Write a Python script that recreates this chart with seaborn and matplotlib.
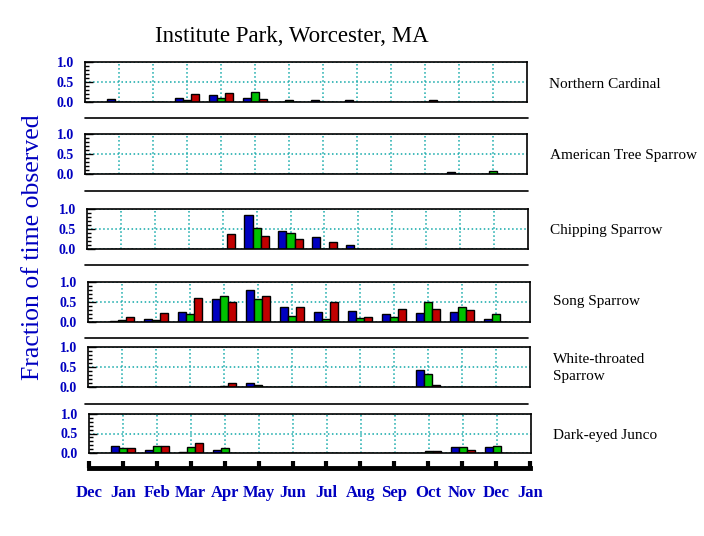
import pandas as pd
import matplotlib
matplotlib.use("Agg")
import matplotlib.pyplot as plt
import seaborn as sns
from matplotlib.lines import Line2D
from matplotlib.ticker import MultipleLocator

# ------------------------------------------
# DATA (fraction of time observed, per month)
# ------------------------------------------
months = ["Jan", "Feb", "Mar", "Apr", "May", "Jun",
          "Jul", "Aug", "Sep", "Oct", "Nov", "Dec"]
month_pos = list(range(1, 13))
axis_labels = ["Dec", "Jan", "Feb", "Mar", "Apr", "May", "Jun",
               "Jul", "Aug", "Sep", "Oct", "Nov", "Dec", "Jan"]
series_names = ["blue", "green", "red"]

species = ["Northern Cardinal", "American Tree Sparrow", "Chipping Sparrow",
           "Song Sparrow", "White-throated\nSparrow", "Dark-eyed Junco"]

cardinal_blue = [0.08, 0, 0.11, 0.18, 0.11, 0, 0.05, 0.05, 0, 0, 0, 0]
cardinal_green = [0, 0, 0.04, 0.11, 0.25, 0.05, 0, 0, 0, 0, 0, 0]
cardinal_red = [0, 0.01, 0.20, 0.23, 0.08, 0, 0, 0, 0, 0.05, 0, 0]

tree_blue = [0, 0, 0, 0.01, 0, 0, 0, 0, 0, 0, 0.05, 0]
tree_green = [0, 0, 0, 0, 0, 0, 0, 0, 0, 0, 0, 0.075]
tree_red = [0, 0, 0, 0, 0, 0, 0, 0, 0, 0, 0, 0]

chipping_blue = [0, 0, 0, 0, 0.84, 0.46, 0.31, 0.10, 0, 0, 0, 0]
chipping_green = [0, 0, 0, 0.01, 0.53, 0.40, 0, 0, 0, 0, 0, 0]
chipping_red = [0, 0, 0, 0.38, 0.33, 0.25, 0.18, 0, 0, 0, 0, 0]

song_blue = [0.02, 0.08, 0.25, 0.57, 0.81, 0.37, 0.25, 0.27, 0.20, 0.22, 0.25, 0.07]
song_green = [0.05, 0.05, 0.20, 0.64, 0.57, 0.15, 0.07, 0.10, 0.12, 0.49, 0.37, 0.20]
song_red = [0.12, 0.22, 0.61, 0.49, 0.66, 0.37, 0.49, 0.12, 0.32, 0.32, 0.30, 0]

white_blue = [0, 0, 0.01, 0, 0.10, 0, 0, 0, 0, 0.42, 0, 0]
white_green = [0, 0, 0, 0.02, 0.05, 0, 0, 0, 0, 0.32, 0, 0]
white_red = [0, 0, 0, 0.10, 0, 0, 0, 0, 0, 0.05, 0, 0]

junco_blue = [0.175, 0.075, 0.02, 0.075, 0, 0, 0, 0, 0, 0, 0.15, 0.15]
junco_green = [0.125, 0.175, 0.15, 0.125, 0, 0, 0, 0, 0, 0.05, 0.15, 0.175]
junco_red = [0.125, 0.175, 0.25, 0, 0, 0, 0, 0, 0, 0.05, 0.075, 0]

panel_data = [
    (cardinal_blue, cardinal_green, cardinal_red),
    (tree_blue, tree_green, tree_red),
    (chipping_blue, chipping_green, chipping_red),
    (song_blue, song_green, song_red),
    (white_blue, white_green, white_red),
    (junco_blue, junco_green, junco_red),
]

# ------------------------------------------
# STYLE
# ------------------------------------------
sns.set_style("white")
plt.rcParams["font.family"] = ["Liberation Serif", "DejaVu Serif"]
plt.rcParams["text.color"] = "black"

W, H = 704, 536
text_blue = "#0000c0"
grid_col = "#10a8a8"
palette = {"blue": "#0000c0", "green": "#00c000", "red": "#c00000"}

# panel boxes in pixels: left, right, top, bottom
boxes = [(85, 527, 62, 102), (85, 527, 134, 174), (87, 528, 209, 249),
         (88, 530, 282, 322), (88, 530, 347, 387), (89, 531, 414, 453)]
label_pos = [(549, 84), (550, 155), (550, 230), (553, 302), (553, 368), (553, 435)]
separators = [118, 191, 265, 338, 404]

fig = plt.figure(figsize=(W / 100, H / 100), dpi=100)

for i, (b, g, r) in enumerate(panel_data):
    x0, x1, y0, y1 = boxes[i]
    ax = fig.add_axes([x0 / W, 1 - y1 / H, (x1 - x0) / W, (y1 - y0) / H])

    df = pd.DataFrame({
        "month": month_pos * 3,
        "value": b + g + r,
        "series": ["blue"] * 12 + ["green"] * 12 + ["red"] * 12,
    })

    sns.barplot(data=df, x="month", y="value", hue="series",
                hue_order=series_names, palette=palette, native_scale=True,
                width=0.72, saturation=1, edgecolor="black", linewidth=1,
                errorbar=None, legend=False, ax=ax)

    ax.set_xlim(0, 13)
    ax.set_ylim(0, 1)
    ax.set_xlabel("")
    ax.set_ylabel("")
    ax.set_xticks(month_pos)
    ax.set_xticklabels([])
    ax.tick_params(axis="x", length=0)
    ax.set_yticks([0, 0.5, 1.0])
    ax.set_yticklabels(["0.0", "0.5", "1.0"])
    ax.yaxis.set_minor_locator(MultipleLocator(0.1))
    ax.tick_params(axis="y", which="major", left=True, direction="in",
                   length=6, width=1, color="black", labelsize=10,
                   labelcolor=text_blue, pad=8)
    ax.tick_params(axis="y", which="minor", left=True, direction="in",
                   length=3, width=1, color="black")
    for lab in ax.get_yticklabels():
        lab.set_fontweight("bold")
    ax.grid(True, axis="both", linestyle=":", color=grid_col, linewidth=1.1)
    ax.set_axisbelow(True)
    for sp in ax.spines.values():
        sp.set_visible(True)
        sp.set_color("black")
        sp.set_linewidth(1.2)

    lx, ly = label_pos[i]
    fig.text(lx / W, 1 - ly / H, species[i], fontsize=11, va="center",
             ha="left", linespacing=1.35, color="black")

# separator lines between panels
for y in separators:
    fig.add_artist(Line2D([85 / W, 528 / W], [1 - y / H, 1 - y / H],
                          color="black", linewidth=1.2))

# month axis at the bottom
axb = fig.add_axes([89 / W, 1 - 468 / H, 441 / W, 0.01])
axb.set_xlim(0, 13)
axb.set_ylim(0, 1)
axb.set_yticks([])
axb.set_xticks(range(14))
axb.set_xticklabels(axis_labels)
for sp in ["left", "right", "top"]:
    axb.spines[sp].set_visible(False)
axb.spines["bottom"].set_linewidth(3.5)
axb.spines["bottom"].set_color("black")
axb.patch.set_alpha(0)
axb.tick_params(axis="x", bottom=True, direction="in", length=5, width=3,
                color="black", labelsize=12, labelcolor=text_blue, pad=12)
for lab in axb.get_xticklabels():
    lab.set_fontweight("bold")

fig.text(292 / W, 1 - 37 / H, "Institute Park, Worcester, MA",
         fontsize=16.5, ha="center", va="center", color="black")
fig.text(33 / W, 1 - 247 / H, "Fraction of time observed", fontsize=18.5,
         color=text_blue, rotation=90, ha="center", va="center")

fig.savefig("out.png", dpi=100)
